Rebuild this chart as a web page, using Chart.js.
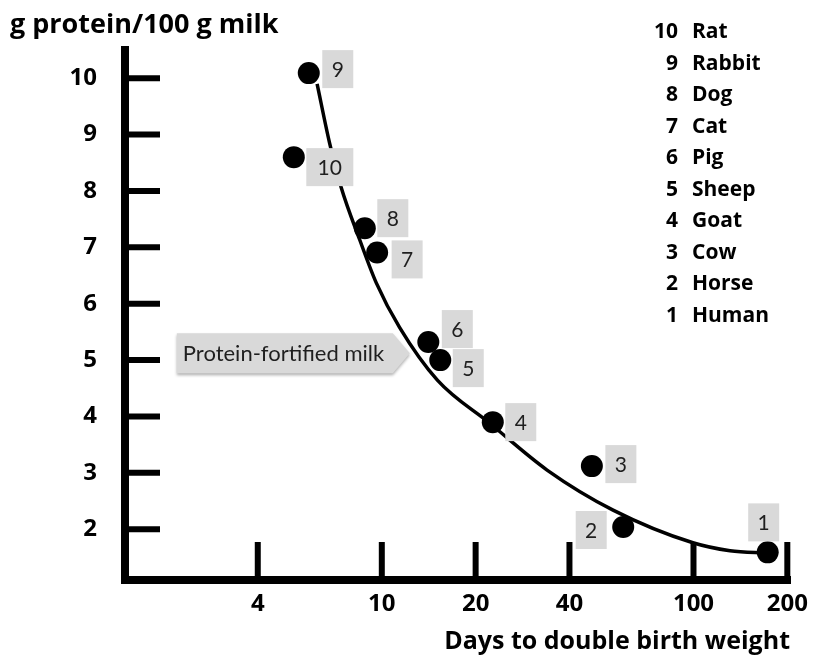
<!DOCTYPE html>
<html>
<head>
<meta charset="utf-8">
<title>Milk protein vs. days to double birth weight</title>
<script src="https://cdn.jsdelivr.net/npm/chart.js@4.4.1/dist/chart.umd.min.js"></script>
<style>
    html, body { margin: 0; padding: 0; background: #fff; }
    #wrap { width: 814px; height: 660px; position: relative; }
</style>
</head>
<body>
<div id="wrap"><canvas id="milkChart"></canvas></div>
<script>
// species, numbered as in the key
const speciesNum = [1, 2, 3, 4, 5, 6, 7, 8, 9, 10];
const speciesName = ['Human', 'Horse', 'Cow', 'Goat', 'Sheep', 'Pig', 'Cat', 'Dog', 'Rabbit', 'Rat'];
const daysToDouble = [173, 59.5, 47.2, 22.7, 15.4, 14.1, 9.66, 8.82, 5.83, 5.22];
const proteinPer100g = [1.59, 2.04, 3.12, 3.9, 5.0, 5.32, 6.91, 7.34, 10.09, 8.6];

// trend curve
const curveDays = [6.2, 6.8, 7.4, 8.5, 9.6, 11.4, 15.1, 22.2, 33.9, 55.2, 99.6, 131, 173];
const curveProtein = [9.9, 8.85, 8.07, 7.13, 6.37, 5.58, 4.64, 3.88, 3.05, 2.34, 1.76, 1.62, 1.58];

const xTicks = [4, 10, 20, 40, 100, 200];
const yTicks = [2, 3, 4, 5, 6, 7, 8, 9, 10];

const calloutText = 'Protein-fortified milk';
const calloutTip = { days: 12.3, protein: 5.12 };

const FONT = 'Lato, "Open Sans", sans-serif';
const BOLD_FONT = '"Open Sans", Lato, sans-serif';

document.addEventListener('DOMContentLoaded', function () {
    const ctx = document.getElementById('milkChart').getContext('2d');

    // where each number box sits relative to its dot (box centre offset)
    const labelPlace = {
        1: { dx: -4, dy: -30 },
        2: { dx: -32, dy: 3 },
        3: { dx: 29, dy: -2 },
        4: { dx: 28, dy: 0 },
        5: { dx: 28, dy: 8 },
        6: { dx: 29, dy: -13 },
        7: { dx: 30, dy: 7 },
        8: { dx: 28, dy: -10 },
        9: { dx: 29, dy: -4 },
        10: { dx: 36, dy: 10 }
    };

    const inwardTicks = {
        id: 'inwardTicks',
        beforeDatasetsDraw(chart) {
            const { ctx, chartArea, scales } = chart;
            ctx.save();
            ctx.strokeStyle = '#000';
            ctx.lineWidth = 6;
            scales.y.ticks.forEach(t => {
                const py = scales.y.getPixelForValue(t.value);
                ctx.beginPath();
                ctx.moveTo(chartArea.left, py);
                ctx.lineTo(chartArea.left + 35, py);
                ctx.stroke();
            });
            scales.x.ticks.forEach(t => {
                const px = scales.x.getPixelForValue(t.value);
                ctx.beginPath();
                ctx.moveTo(px, chartArea.bottom);
                ctx.lineTo(px, chartArea.bottom - 38);
                ctx.stroke();
            });
            // close the corner of the two thick axis lines
            ctx.fillStyle = '#000';
            ctx.fillRect(chartArea.left - 4, chartArea.bottom - 4, 8, 8);
            ctx.restore();
        }
    };

    const extras = {
        id: 'extras',
        afterDatasetsDraw(chart) {
            const { ctx, scales } = chart;
            const meta = chart.getDatasetMeta(1);
            ctx.save();

            // callout arrow
            const tipX = scales.x.getPixelForValue(calloutTip.days);
            const tipY = scales.y.getPixelForValue(calloutTip.protein);
            const left = tipX - 233, right = tipX - 17, top = tipY - 20, bottom = tipY + 20;
            ctx.shadowColor = 'rgba(0,0,0,0.3)';
            ctx.shadowBlur = 3;
            ctx.shadowOffsetY = 2;
            ctx.fillStyle = '#d9d9d9';
            ctx.beginPath();
            ctx.moveTo(left, top);
            ctx.lineTo(right, top);
            ctx.lineTo(tipX, tipY);
            ctx.lineTo(right, bottom);
            ctx.lineTo(left, bottom);
            ctx.closePath();
            ctx.fill();
            ctx.shadowColor = 'transparent';
            ctx.fillStyle = '#1f1f1f';
            ctx.font = '22px ' + FONT;
            ctx.textAlign = 'left';
            ctx.textBaseline = 'middle';
            ctx.fillText(calloutText, left + 6, tipY + 1);

            // number boxes next to the dots
            meta.data.forEach((pt, i) => {
                const n = speciesNum[i];
                const place = labelPlace[n];
                const w = n >= 10 ? 47 : 31;
                const h = 38;
                const cx = pt.x + place.dx, cy = pt.y + place.dy;
                ctx.fillStyle = '#d9d9d9';
                ctx.fillRect(cx - w / 2, cy - h / 2, w, h);
                ctx.fillStyle = '#1f1f1f';
                ctx.font = '21px ' + FONT;
                ctx.textAlign = 'center';
                ctx.textBaseline = 'middle';
                ctx.fillText(String(n), cx, cy + 1);
            });

            // y axis title, horizontal at the top
            ctx.fillStyle = '#000';
            ctx.font = 'bold 27px ' + BOLD_FONT;
            ctx.textAlign = 'left';
            ctx.textBaseline = 'alphabetic';
            ctx.fillText('g protein/100 g milk', 10, 33);

            // key, highest number first
            ctx.font = 'bold 21px ' + BOLD_FONT;
            for (let i = speciesNum.length - 1, row = 0; i >= 0; i--, row++) {
                const by = 38 + row * 31.5;
                ctx.textAlign = 'right';
                ctx.fillText(String(speciesNum[i]), 678, by);
                ctx.textAlign = 'left';
                ctx.fillText(speciesName[i], 692, by);
            }
            ctx.restore();
        }
    };

    new Chart(ctx, {
        type: 'scatter',
        data: {
            datasets: [
                {
                    label: 'trend',
                    data: curveDays.map((d, i) => ({ x: d, y: curveProtein[i] })),
                    showLine: true,
                    borderColor: '#000',
                    borderWidth: 3.5,
                    pointRadius: 0,
                    cubicInterpolationMode: 'monotone'
                },
                {
                    label: 'species',
                    data: daysToDouble.map((d, i) => ({ x: d, y: proteinPer100g[i] })),
                    backgroundColor: '#000',
                    borderColor: '#000',
                    borderWidth: 0,
                    pointRadius: 11
                }
            ]
        },
        options: {
            responsive: true,
            maintainAspectRatio: false,
            animation: false,
            events: [],
            layout: { padding: { top: 50, right: 24, left: 0, bottom: 0 } },
            plugins: {
                legend: { display: false },
                tooltip: { enabled: false }
            },
            scales: {
                x: {
                    type: 'logarithmic',
                    min: 1.5,
                    max: 204,
                    afterBuildTicks: s => { s.ticks = xTicks.map(v => ({ value: v })); },
                    afterFit: s => { s.height = 80; s.paddingLeft = 0; s.paddingRight = 0; },
                    grid: { display: false, drawTicks: false },
                    border: { display: true, color: '#000', width: 8 },
                    ticks: {
                        padding: 10,
                        color: '#000',
                        font: { family: BOLD_FONT, size: 24, weight: 'bold' },
                        maxRotation: 0,
                        autoSkip: false,
                        callback: v => String(v)
                    },
                    title: {
                        display: true,
                        text: 'Days to double birth weight',
                        align: 'end',
                        color: '#000',
                        font: { family: BOLD_FONT, size: 25, weight: 'bold' },
                        padding: { top: 0, bottom: 3 }
                    }
                },
                y: {
                    min: 1.1,
                    max: 10.5,
                    afterBuildTicks: s => { s.ticks = yTicks.map(v => ({ value: v })); },
                    afterFit: s => { s.width = 125; s.paddingTop = 0; s.paddingBottom = 0; },
                    grid: { display: false, drawTicks: false },
                    border: { display: true, color: '#000', width: 8 },
                    ticks: {
                        padding: 28,
                        color: '#000',
                        font: { family: BOLD_FONT, size: 24, weight: 'bold' },
                        callback: v => String(v)
                    }
                }
            }
        },
        plugins: [inwardTicks, extras]
    });
});
</script>
</body>
</html>
